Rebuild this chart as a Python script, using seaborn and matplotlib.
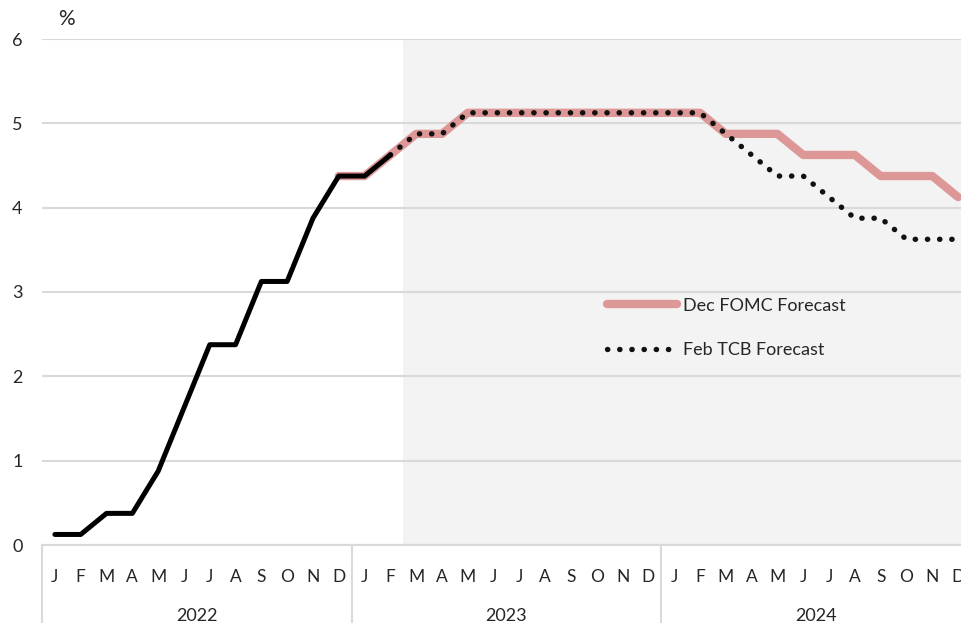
import numpy as np
import pandas as pd
import matplotlib
matplotlib.use("Agg")
import matplotlib.pyplot as plt
import matplotlib.transforms as mtransforms
from matplotlib.lines import Line2D
import seaborn as sns

# Chart data
months = ["J", "F", "M", "A", "M", "J", "J", "A", "S", "O", "N", "D"] * 3
years = ["2022", "2023", "2024"]

actual = [0.125, 0.125, 0.375, 0.375, 0.875, 1.625, 2.375, 2.375, 3.125, 3.125,
          3.875, 4.375, 4.375, 4.625]                       # Jan 2022 - Feb 2023
fomc = [4.375, 4.375, 4.625, 4.875, 4.875,
        5.125, 5.125, 5.125, 5.125, 5.125, 5.125, 5.125, 5.125, 5.125, 5.125,
        4.875, 4.875, 4.875, 4.625, 4.625, 4.625, 4.375, 4.375, 4.375, 4.125]  # Dec 2022 - Dec 2024
tcb = [4.625, 4.875, 4.875,
       5.125, 5.125, 5.125, 5.125, 5.125, 5.125, 5.125, 5.125, 5.125, 5.125,
       4.875, 4.625, 4.375, 4.375, 4.125, 3.875, 3.875, 3.625, 3.625, 3.625]  # Feb 2023 - Dec 2024

df_actual = pd.DataFrame({"x": np.arange(0, len(actual)), "rate": actual})
df_fomc = pd.DataFrame({"x": np.arange(11, 11 + len(fomc)), "rate": fomc})
df_tcb = pd.DataFrame({"x": np.arange(13, 13 + len(tcb)), "rate": tcb})

sns.set_theme(style="white")
plt.rcParams["font.family"] = ["Lato", "DejaVu Sans"]

W, H = 962, 623
fig = plt.figure(figsize=(W / 100, H / 100), dpi=100)
ax = fig.add_axes([42 / W, (H - 545) / H, 929 / W, 506 / H])

grid_col = "#d9d9d9"
pink = "#de9797"
txt_col = "#262626"
dots = (0, (0.05, 2.2))

# forecast period shading
ax.axvspan(13.5, 35.5, color="#f3f3f3", zorder=0.2, lw=0)

sns.lineplot(data=df_fomc, x="x", y="rate", ax=ax, color=pink, lw=6,
             solid_capstyle="round", zorder=2)
sns.lineplot(data=df_actual, x="x", y="rate", ax=ax, color="black", lw=3.6,
             solid_capstyle="round", zorder=4)
sns.lineplot(data=df_tcb, x="x", y="rate", ax=ax, color="#111111", lw=3.9,
             linestyle=dots, dash_capstyle="round", zorder=3)

ax.set_xlim(-0.5, 35.5)
ax.set_ylim(0, 6)
ax.set_yticks(range(0, 7))
ax.set_xticks(range(36))
ax.set_xticklabels(months, fontsize=12.5, color=txt_col)
ax.tick_params(axis="x", length=0, pad=17)
ax.tick_params(axis="y", length=0, pad=14, labelsize=13, labelcolor=txt_col)
ax.set_xlabel("")
ax.set_ylabel("")

ax.set_axisbelow(True)
ax.yaxis.grid(True, color=grid_col, lw=1.5)
ax.xaxis.grid(False)
for side in ["left", "right", "top"]:
    ax.spines[side].set_visible(False)
ax.spines["bottom"].set_color(grid_col)
ax.spines["bottom"].set_linewidth(1.5)

# multi-level category axis: year separators and labels
trans = mtransforms.blended_transform_factory(ax.transData, ax.transAxes)
for xsep in [-0.5, 11.5, 23.5, 35.5]:
    ax.plot([xsep, xsep], [0, -0.17], transform=trans, color=grid_col, lw=1.5,
            clip_on=False)
for i, yr in enumerate(years):
    ax.text(i * 12 + 5.5, -0.14, yr, transform=trans, ha="center", va="center",
            fontsize=13, color=txt_col)

fig.text(66 / W, 1 - 19 / H, "%", ha="center", va="center", fontsize=15,
         color=txt_col)

handles = [Line2D([], [], color=pink, lw=6, solid_capstyle="round"),
           Line2D([], [], color="#111111", lw=3.9, linestyle=dots,
                  dash_capstyle="round")]
ax.legend(handles, ["Dec FOMC Forecast", "Feb TCB Forecast"], loc="center left",
          bbox_to_anchor=(607 / W, 1 - 328 / H), bbox_transform=fig.transFigure,
          frameon=False, fontsize=13, handlelength=3.9, handletextpad=0.3,
          labelspacing=1.6, borderpad=0, borderaxespad=0, labelcolor=txt_col)

fig.savefig("out.png", dpi=100)
